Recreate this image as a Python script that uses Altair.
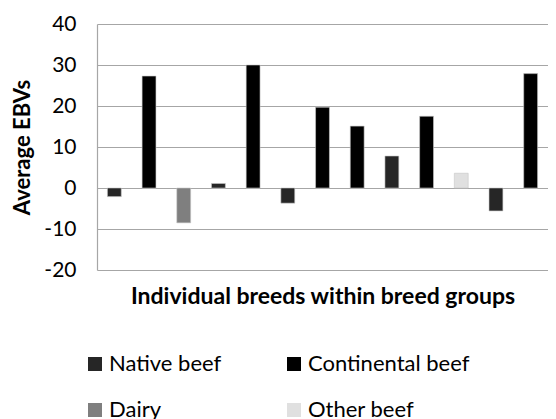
import altair as alt
import pandas as pd

breeds = [f"B{i:02d}" for i in range(1, 14)]
groups = ["Native beef", "Continental beef", "Dairy", "Native beef", "Continental beef",
          "Native beef", "Continental beef", "Continental beef", "Native beef",
          "Continental beef", "Other beef", "Native beef", "Continental beef"]
values = [-2.1, 27.3, -8.5, 1.1, 30.0, -3.7, 19.7, 15.1, 7.8, 17.5, 3.6, -5.6, 27.9]

group_order = ["Native beef", "Continental beef", "Dairy", "Other beef"]
group_colors = ["#262626", "#000000", "#7f7f7f", "#e0e0e0"]
y_ticks = [-20, -10, 0, 10, 20, 30, 40]

df = pd.DataFrame({"breed": breeds, "group": groups, "value": values})

FONT = "Lato"

chart = alt.Chart(df).mark_bar(stroke="#c8c8c8", strokeWidth=0.6).encode(
    x=alt.X("breed:N", sort=breeds,
            scale=alt.Scale(paddingInner=0.6, paddingOuter=0.3),
            axis=alt.Axis(labels=False, ticks=False, domain=False,
                          title="Individual breeds within breed groups",
                          titleFont=FONT, titleFontSize=23, titleFontWeight="bold",
                          titleColor="#000000", titlePadding=15)),
    y=alt.Y("value:Q", scale=alt.Scale(domain=[-20, 40], nice=False),
            axis=alt.Axis(values=y_ticks, ticks=False, domain=True, domainColor="#a6a6a6",
                          domainWidth=1.2, grid=True, gridColor="#a6a6a6", gridWidth=1.2,
                          labelFont=FONT, labelFontSize=21, labelColor="#000000",
                          labelPadding=21, labelExpr="datum.value + ''",
                          title="Average EBVs", titleFont=FONT, titleFontSize=22,
                          titleFontWeight="bold", titleColor="#000000",
                          titleX=-75, titleY=123, titleAngle=270,
                          titleAlign="center", titleBaseline="middle")),
    color=alt.Color("group:N",
                    scale=alt.Scale(domain=group_order, range=group_colors),
                    legend=alt.Legend(title=None, orient="none", legendX=-13, legendY=329,
                                      columns=2, direction="horizontal",
                                      symbolType="square", symbolSize=196,
                                      symbolStrokeWidth=0, labelOffset=3, labelLimit=400,
                                      labelFont=FONT, labelFontSize=22, labelColor="#000000",
                                      rowPadding=24, columnPadding=61, padding=0)),
).properties(
    width=451, height=246,
    autosize=alt.AutoSizeParams(type="none"),
    padding={"left": 89, "top": 16, "right": 0, "bottom": 149},
).configure_view(stroke=None)

chart.save("out.html", embed_options={"renderer": "svg", "actions": False})
